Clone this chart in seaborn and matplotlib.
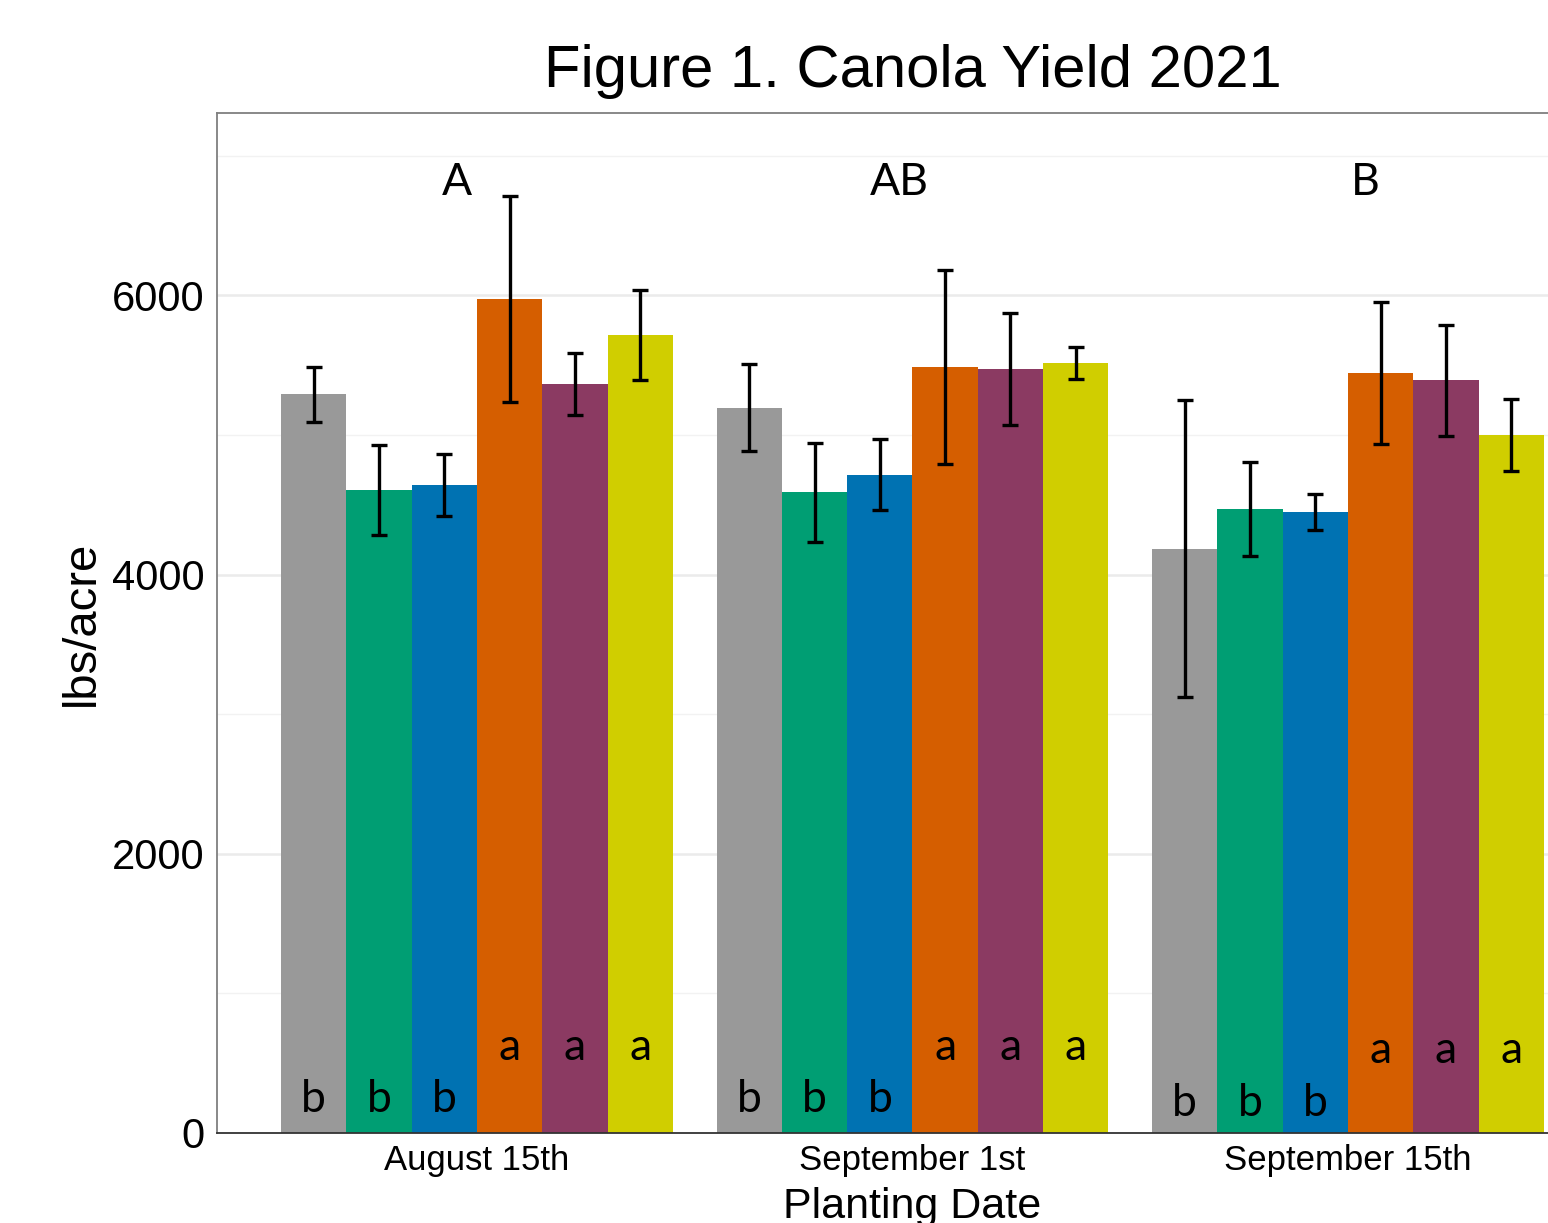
import pandas as pd
import matplotlib.pyplot as plt
import seaborn as sns

# Canola yield by planting date and treatment
dates = ['August 15th', 'September 1st', 'September 15th']
treatments = ['T1', 'T2', 'T3', 'T4', 'T5', 'T6']
colors = ['#999999', '#009E73', '#0072B2', '#D55E00', '#8B3A62', '#D0CE00']

yield_aug15 = [5290, 4605, 4640, 5975, 5365, 5715]
yield_sep01 = [5195, 4590, 4715, 5485, 5470, 5515]
yield_sep15 = [4185, 4470, 4450, 5445, 5390, 5000]

se_aug15 = [195, 320, 220, 740, 225, 325]
se_sep01 = [310, 355, 255, 695, 400, 115]
se_sep15 = [1065, 335, 130, 510, 400, 255]

trt_letters = [['b', 'b', 'b', 'a', 'a', 'a'],
               ['b', 'b', 'b', 'a', 'a', 'a'],
               ['b', 'b', 'b', 'a', 'a', 'a']]
date_letters = ['A', 'AB', 'B']

rows = []
for d, ys, ses in zip(dates, [yield_aug15, yield_sep01, yield_sep15],
                      [se_aug15, se_sep01, se_sep15]):
    for t, y, s in zip(treatments, ys, ses):
        rows.append({'date': d, 'treatment': t, 'yield': y, 'se': s})
df = pd.DataFrame(rows)

sns.set_style('white')
plt.rcParams['font.family'] = ['Liberation Sans', 'DejaVu Sans']
plt.rcParams['text.color'] = 'black'
plt.rcParams['axes.labelcolor'] = 'black'
plt.rcParams['xtick.color'] = 'black'
plt.rcParams['ytick.color'] = 'black'

fig = plt.figure(figsize=(15.48, 12.23), dpi=100)
ax = fig.add_axes([217 / 1548, 90 / 1223, 1391 / 1548, 1020 / 1223])

sns.barplot(data=df, x='date', y='yield', hue='treatment', order=dates,
            hue_order=treatments, palette=colors, width=0.9, errorbar=None,
            saturation=1, linewidth=0, legend=False, ax=ax)

# error bars and letters placed on the bars seaborn drew
letter_font = ['Lato', 'DejaVu Sans']
bar_conts = list(ax.containers)
for j, cont in enumerate(bar_conts):
    for i, bar in enumerate(cont):
        xc = bar.get_x() + bar.get_width() / 2
        h = bar.get_height()
        se = df[(df['date'] == dates[i]) & (df['treatment'] == treatments[j])]['se'].iloc[0]
        ax.errorbar(xc, h, yerr=se, color='black', lw=2.4, capsize=6,
                    capthick=2.4, zorder=4)
        lab = trt_letters[i][j]
        base = 150 if lab == 'b' else 525
        if i == 2:
            base -= 25
        ax.text(xc, base, lab, ha='center', va='baseline', fontsize=32,
                family=letter_font, zorder=5)

# group letters sit a little off the group centre in the original
shift = [-0.045, -0.03, 0.04]
for i, lab in enumerate(date_letters):
    ax.text(i + shift[i], 6720, lab, ha='center', va='baseline', fontsize=32,
            family=letter_font)

ax.set_xlim(-0.597, 2.597)
ax.set_ylim(0, 7306)
ax.set_yticks([0, 2000, 4000, 6000])
ax.set_yticks([1000, 3000, 5000, 7000], minor=True)
ax.grid(True, which='major', axis='y', color='#EBEBEB', lw=1.8)
ax.grid(True, which='minor', axis='y', color='#F2F2F2', lw=1.0)
ax.set_axisbelow(True)

for s in ['left', 'top', 'right']:
    ax.spines[s].set_color('#7F7F7F')
    ax.spines[s].set_linewidth(1.3)
ax.spines['bottom'].set_color('#333333')
ax.spines['bottom'].set_linewidth(1.3)

ax.tick_params(axis='y', which='major', length=5, width=1.3, color='#333333',
               labelsize=30, pad=4)
ax.tick_params(axis='y', which='minor', length=0)
ax.tick_params(axis='x', length=5, width=1.3, color='#333333', labelsize=25, pad=3)

ax.set_title('Figure 1. Canola Yield 2021', fontsize=43, pad=19)
ax.set_xlabel('Planting Date', fontsize=31, labelpad=7)
ax.set_ylabel('lbs/acre', fontsize=34, labelpad=6)

fig.savefig('out.png', dpi=100)
